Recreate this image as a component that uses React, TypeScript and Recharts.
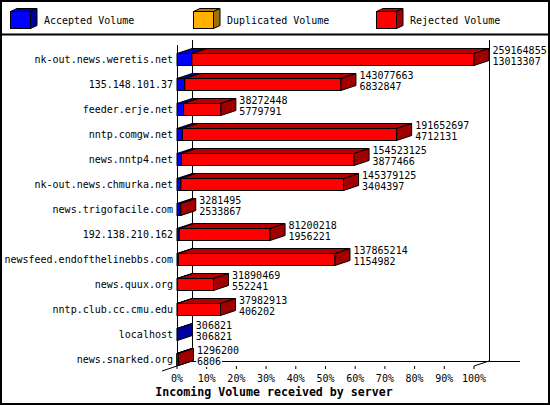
import React from 'react';
import { Bar, BarChart, LabelList, XAxis, YAxis } from 'recharts';

const SERVERS = [
  'nk-out.news.weretis.net',
  '135.148.101.37',
  'feeder.erje.net',
  'nntp.comgw.net',
  'news.nntp4.net',
  'nk-out.news.chmurka.net',
  'news.trigofacile.com',
  '192.138.210.162',
  'newsfeed.endofthelinebbs.com',
  'news.quux.org',
  'nntp.club.cc.cmu.edu',
  'localhost',
  'news.snarked.org',
];

const TOTAL_VOLUME = [
  259164855, 143077663, 38272448, 191652697, 154523125, 145379125, 3281495,
  81200218, 137865214, 31890469, 37982913, 306821, 1296200,
];

const ACCEPTED_VOLUME = [
  13013307, 6832847, 5779791, 4712131, 3877466, 3404397, 2533867, 1956221,
  1154982, 552241, 406202, 306821, 6806,
];

const DUPLICATED_VOLUME = [0, 0, 0, 0, 0, 0, 0, 0, 0, 0, 0, 0, 0];

const PERCENT_TICKS = [0, 10, 20, 30, 40, 50, 60, 70, 80, 90, 100];

const SERIES = [
  { key: 'accepted', name: 'Accepted Volume', front: '#0000ff', top: '#0000b4', side: '#0000a0' },
  { key: 'duplicated', name: 'Duplicated Volume', front: '#ffb000', top: '#b47c00', side: '#a07000' },
  { key: 'rejected', name: 'Rejected Volume', front: '#ff0000', top: '#b40000', side: '#a00000' },
];

const maxTotal = Math.max(...TOTAL_VOLUME);
const pct = (v: number) => (v / maxTotal) * 100;

const rows = SERVERS.map((server, i) => ({
  server,
  total: TOTAL_VOLUME[i],
  acceptedCount: ACCEPTED_VOLUME[i],
  accepted: pct(ACCEPTED_VOLUME[i]),
  duplicated: pct(DUPLICATED_VOLUME[i]),
  rejected: pct(TOTAL_VOLUME[i] - ACCEPTED_VOLUME[i] - DUPLICATED_VOLUME[i]),
}));

// layout of the picture
const W = 550;
const H = 405;
const PLOT_LEFT = 177;
const PLOT_RIGHT = 474;
const PLOT_TOP = 41;
const PLOT_BOTTOM = 366;
const DX = 15; // 3d depth
const DY = 5;
const BAR_SHIFT = 5.5;
const FONT = '"DejaVu Sans Mono", monospace';

type Colors = { front: string; top: string; side: string };

function Box3D(props: any & { colors: Colors }) {
  const { x, y, width, height, colors } = props;
  if (!width || width <= 0) return <g />;
  const y0 = y + BAR_SHIFT;
  const x1 = x + width;
  const pts = (a: number[][]) => a.map((p) => p.join(',')).join(' ');
  return (
    <g stroke='#000' strokeWidth={1} strokeLinejoin='miter'>
      <rect x={x} y={y0} width={width} height={height} fill={colors.front} />
      <polygon
        points={pts([[x, y0], [x1, y0], [x1 + DX, y0 - DY], [x + DX, y0 - DY]])}
        fill={colors.top}
      />
      <polygon
        points={pts([[x1, y0], [x1 + DX, y0 - DY], [x1 + DX, y0 + height - DY], [x1, y0 + height]])}
        fill={colors.side}
      />
    </g>
  );
}

function VolumeLabel(props: any) {
  const { x, y, width, height, index } = props;
  const row = rows[index];
  if (!row) return null;
  const lx = x + width + DX + 3.5;
  const cy = y + height / 2 + BAR_SHIFT;
  const lines = [String(row.total), String(row.acceptedCount)];
  return (
    <g>
      {lines.map((t, i) => {
        const c = cy - 9 + i * 11;
        return (
          <g key={i}>
            <rect x={lx - 1} y={c - 5.5} width={t.length * 6 + 2} height={11} fill='#fff' />
            <text x={lx} y={c + 3.6} fontFamily={FONT} fontSize={10} fill='#000'>
              {t}
            </text>
          </g>
        );
      })}
    </g>
  );
}

function ServerTick(props: any) {
  const { x, y, payload } = props;
  return (
    <text x={x} y={y + BAR_SHIFT + 3.6} textAnchor='end' fontFamily={FONT} fontSize={10} fill='#000'>
      {payload.value}
    </text>
  );
}

function Backdrop() {
  const legendX = [10, 193, 376];
  return (
    <svg width={W} height={H} style={{ position: 'absolute', left: 0, top: 0 }}>
      <rect x={1} y={1} width={W - 2} height={H - 2} fill='#fff' stroke='#000' strokeWidth={2} />
      <line x1={0} y1={34.5} x2={W} y2={34.5} stroke='#000' strokeWidth={2} />
      {SERIES.map((s, i) => {
        const bx = legendX[i];
        return (
          <g key={s.key} stroke='#000' strokeWidth={1}>
            <rect x={bx + 0.5} y={11.5} width={20} height={17} fill={s.front} />
            <polygon
              points={`${bx + 0.5},11.5 ${bx + 20.5},11.5 ${bx + 27},8.5 ${bx + 7},8.5`}
              fill={s.top}
            />
            <polygon
              points={`${bx + 20.5},11.5 ${bx + 27},8.5 ${bx + 27},25.5 ${bx + 20.5},28.5`}
              fill={s.side}
            />
            <text x={bx + 34} y={24} stroke='none' fill='#000' fontFamily={FONT} fontSize={10}>
              {s.name}
            </text>
          </g>
        );
      })}
      <g stroke='#000' strokeWidth={1} fill='none'>
        <line x1={PLOT_LEFT + 0.5} y1={45} x2={PLOT_LEFT + 0.5} y2={PLOT_BOTTOM} />
        <line x1={PLOT_LEFT + DX + 0.5} y1={40} x2={PLOT_LEFT + DX + 0.5} y2={PLOT_BOTTOM - DY} />
        <line x1={PLOT_RIGHT + DX + 0.5} y1={40} x2={PLOT_RIGHT + DX + 0.5} y2={PLOT_BOTTOM - DY} />
        <line x1={PLOT_LEFT + DX} y1={PLOT_BOTTOM - DY + 0.5} x2={520} y2={PLOT_BOTTOM - DY + 0.5} />
        <line x1={PLOT_LEFT - DX} y1={PLOT_BOTTOM + DY} x2={PLOT_LEFT + DX} y2={PLOT_BOTTOM - DY} />
        <line x1={PLOT_RIGHT} y1={PLOT_BOTTOM} x2={PLOT_RIGHT + DX} y2={PLOT_BOTTOM - DY} />
      </g>
      <text
        x={274}
        y={396}
        textAnchor='middle'
        fontFamily={FONT}
        fontSize={11.6}
        fontWeight='bold'
        fill='#000'
      >
        Incoming Volume received by server
      </text>
    </svg>
  );
}

export default function App() {
  return (
    <div style={{ position: 'absolute', left: 0, top: 0, width: W, height: H }}>
      <Backdrop />
      <div style={{ position: 'absolute', left: 0, top: 0 }}>
        <BarChart
          width={W}
          height={H}
          data={rows}
          layout='vertical'
          margin={{ top: PLOT_TOP, right: W - PLOT_RIGHT, bottom: 9, left: 7 }}
        >
          <XAxis
            type='number'
            domain={[0, 100]}
            ticks={PERCENT_TICKS}
            interval={0}
            tickFormatter={(v: number) => `${v}%`}
            axisLine={false}
            tickLine={{ stroke: '#000' }}
            tickSize={3}
            tickMargin={6}
            height={30}
            tick={{ fill: '#000', fontSize: 10, fontFamily: FONT }}
          />
          <YAxis
            type='category'
            dataKey='server'
            width={PLOT_LEFT - 7}
            interval={0}
            axisLine={false}
            tickLine={false}
            tickSize={0}
            tickMargin={4}
            tick={<ServerTick />}
          />
          {SERIES.map((s) => (
            <Bar
              key={s.key}
              dataKey={s.key}
              name={s.name}
              stackId='volume'
              barSize={12}
              fill={s.front}
              isAnimationActive={false}
              shape={(p: any) => <Box3D {...p} colors={s} />}
            >
              {s.key === 'rejected' ? <LabelList dataKey='total' content={<VolumeLabel />} /> : null}
            </Bar>
          ))}
        </BarChart>
      </div>
    </div>
  );
}
